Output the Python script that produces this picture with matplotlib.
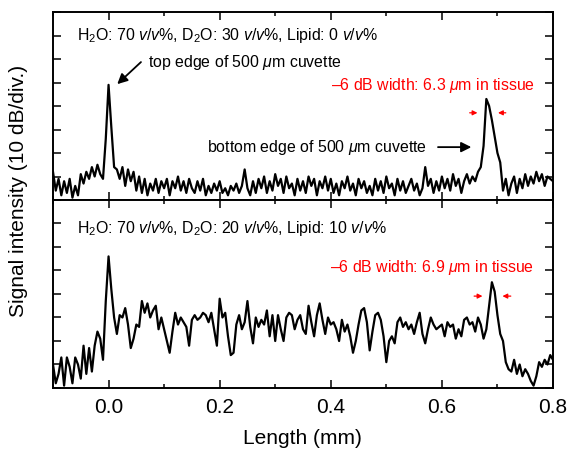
import numpy as np
import matplotlib
matplotlib.use('Agg')
import matplotlib.pyplot as plt
from matplotlib.ticker import MultipleLocator

plt.rcParams['font.family'] = ['Liberation Sans', 'DejaVu Sans']
plt.rcParams['mathtext.fontset'] = 'custom'
plt.rcParams['mathtext.rm'] = 'Liberation Sans'
plt.rcParams['mathtext.it'] = 'Liberation Sans:italic'

# signal in dB, sampled every 0.005 mm from -0.1 to 0.8 mm
signal_top = [
    12, 4, 9, 2, 8, 3, 9, 1, 6, 2,
    11, 7, 12, 9, 14, 10, 15, 11, 9, 26,
    49, 31, 14, 13, 9, 14, 6, 13, 8, 12,
    4, 10, 3, 9, 2, 7, 4, 9, 3, 8,
    5, 9, 2, 8, 5, 10, 4, 8, 3, 9,
    5, 3, 8, 4, 9, 2, 6, 3, 7, 4,
    8, 3, 5, 2, 6, 4, 7, 3, 6, 13,
    5, 2, 8, 3, 9, 5, 10, 3, 8, 4,
    11, 6, 9, 3, 10, 5, 7, 2, 9, 4,
    8, 3, 10, 6, 9, 2, 8, 5, 10, 4,
    9, 3, 7, 2, 8, 5, 10, 4, 7, 2,
    9, 5, 8, 3, 6, 2, 9, 4, 8, 3,
    10, 5, 7, 2, 9, 4, 8, 3, 6, 9,
    4, 7, 2, 5, 14, 6, 9, 3, 8, 4,
    10, 5, 9, 4, 11, 6, 9, 3, 8, 11,
    7, 10, 8, 12, 14, 23, 43, 40, 34, 27,
    20, 16, 4, 9, 2, 7, 10, 3, 9, 5,
    11, 6, 10, 7, 12, 8, 11, 6, 10, 9,
    8,
]
signal_bottom = [
    10, 2, 6, 13, 1, 13, 9, 2, 13, 10,
    4, 18, 6, 17, 7, 18, 24, 21, 12, 37,
    56, 42, 30, 23, 31, 30, 34, 27, 17, 21,
    27, 26, 37, 32, 36, 30, 33, 35, 25, 30,
    25, 20, 15, 24, 32, 27, 30, 28, 26, 18,
    29, 31, 29, 30, 32, 31, 28, 32, 25, 18,
    38, 30, 32, 22, 14, 15, 27, 31, 25, 28,
    37, 26, 19, 30, 26, 29, 27, 33, 22, 31,
    20, 31, 25, 20, 30, 32, 31, 25, 29, 31,
    25, 23, 35, 28, 22, 31, 36, 29, 23, 30,
    27, 28, 25, 20, 29, 24, 27, 22, 15, 20,
    27, 33, 34, 28, 16, 24, 31, 32, 29, 22,
    11, 20, 22, 19, 28, 30, 26, 28, 25, 27,
    23, 28, 32, 23, 19, 25, 30, 27, 25, 26,
    27, 22, 28, 26, 27, 21, 25, 22, 29, 30,
    27, 28, 24, 30, 27, 21, 25, 35, 45, 41,
    31, 23, 20, 11, 8, 7, 12, 6, 10, 5,
    8, 6, 3, 1, 5, 11, 9, 12, 10, 14,
    12,
]
length_mm = np.linspace(-0.1, 0.8, len(signal_top))

labels = [
    r'H$_\mathrm{2}$O: 70 $v/v$%, D$_\mathrm{2}$O: 30 $v/v$%, Lipid: 0 $v/v$%',
    r'H$_\mathrm{2}$O: 70 $v/v$%, D$_\mathrm{2}$O: 20 $v/v$%, Lipid: 10 $v/v$%',
]
widths = [r'–6 dB width: 6.3 $\mu$m in tissue', r'–6 dB width: 6.9 $\mu$m in tissue']

fig = plt.figure(figsize=(5.68, 4.53), dpi=100)
ax1 = fig.add_axes([0.0933, 0.5585, 0.8803, 0.415])
ax2 = fig.add_axes([0.0933, 0.1435, 0.8803, 0.415])

for ax, sig in [(ax1, signal_top), (ax2, signal_bottom)]:
    ax.plot(length_mm, sig, color='black', lw=1.6, solid_joinstyle='round')
    ax.set_xlim(-0.1, 0.8)
    ax.set_ylim(0, 80)
    ax.xaxis.set_major_locator(MultipleLocator(0.2))
    ax.xaxis.set_minor_locator(MultipleLocator(0.1))
    ax.yaxis.set_major_locator(MultipleLocator(10))
    ax.tick_params(which='both', direction='in', top=True, right=True,
                   labelleft=False, width=1.1)
    ax.tick_params(which='major', length=5.5)
    ax.tick_params(which='minor', length=3)
    ax.tick_params(axis='x', labelsize=15, pad=7)
    for s in ax.spines.values():
        s.set_linewidth(1.4)

ax1.tick_params(labelbottom=False)
ax2.set_xticks([0.0, 0.2, 0.4, 0.6, 0.8])
ax2.set_xticklabels(['0.0', '0.2', '0.4', '0.6', '0.8'])

fs = 11.4
# top panel texts
ax1.text(-0.057, 70.2, labels[0], fontsize=fs, va='center')
ax1.text(0.071, 58.7, r'top edge of 500 $\mu$m cuvette', fontsize=fs, va='center')
ax1.annotate('', xy=(0.012, 48.5), xytext=(0.062, 59.5),
             arrowprops=dict(arrowstyle='-|>', color='black', lw=1.3, mutation_scale=15))
ax1.text(0.573, 22.5, r'bottom edge of 500 $\mu$m cuvette', fontsize=fs,
         va='center', ha='right')
ax1.annotate('', xy=(0.658, 22.5), xytext=(0.588, 22.5),
             arrowprops=dict(arrowstyle='-|>', color='black', lw=1.3, mutation_scale=15))
ax1.text(0.768, 48.8, widths[0], fontsize=fs, color='red', va='center', ha='right')
ax1.annotate('', xy=(0.669, 37.1), xytext=(0.645, 37.1),
             arrowprops=dict(arrowstyle='-|>', color='red', lw=0.9, mutation_scale=7))
ax1.annotate('', xy=(0.696, 37.1), xytext=(0.720, 37.1),
             arrowprops=dict(arrowstyle='-|>', color='red', lw=0.9, mutation_scale=7))

# bottom panel texts
ax2.text(-0.057, 68.0, labels[1], fontsize=fs, va='center')
ax2.text(0.766, 51.2, widths[1], fontsize=fs, color='red', va='center', ha='right')
ax2.annotate('', xy=(0.678, 39.1), xytext=(0.653, 39.1),
             arrowprops=dict(arrowstyle='-|>', color='red', lw=0.9, mutation_scale=7))
ax2.annotate('', xy=(0.704, 39.1), xytext=(0.729, 39.1),
             arrowprops=dict(arrowstyle='-|>', color='red', lw=0.9, mutation_scale=7))

fig.text(0.033, 0.578, 'Signal intensity (10 dB/div.)', rotation=90,
         fontsize=15, ha='center', va='center')
fig.text(0.533, 0.033, 'Length (mm)', fontsize=15, ha='center', va='center')

fig.savefig('out.png', dpi=100)
